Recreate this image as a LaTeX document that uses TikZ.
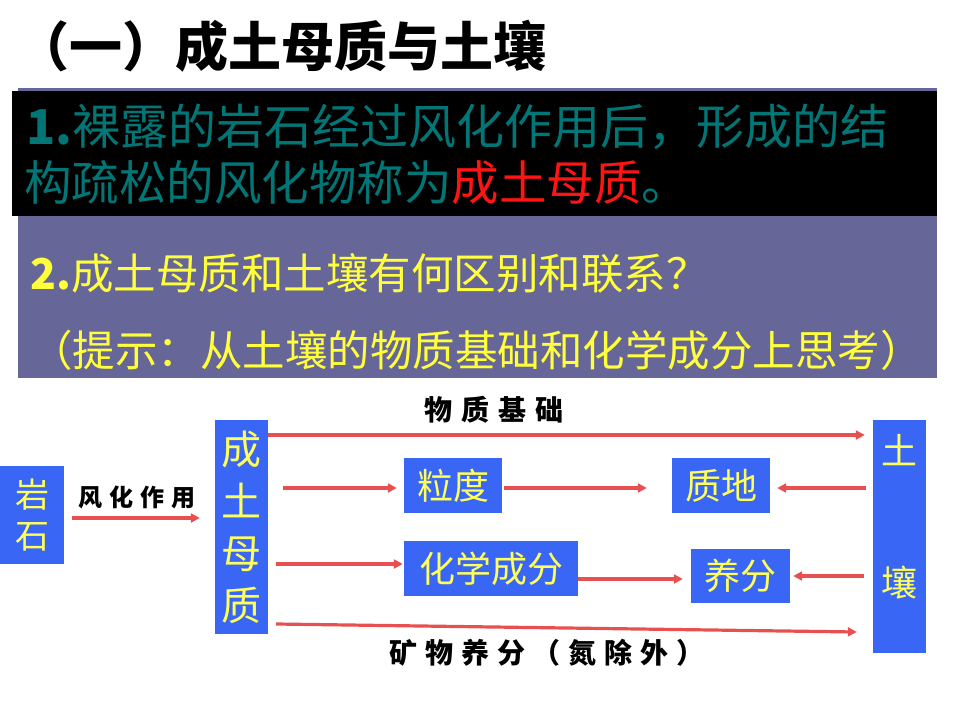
\documentclass[tikz,border=0pt]{standalone}
\usepackage{fontspec}
\setmainfont{Noto Sans CJK SC}
\usetikzlibrary{arrows.meta}
\definecolor{pur}{RGB}{102,102,153}
\definecolor{boxblue}{RGB}{58,102,245}
\definecolor{ylw}{RGB}{255,255,60}
\definecolor{boxtxt}{RGB}{255,255,90}
\definecolor{teal2}{RGB}{0,118,118}
\definecolor{arrred}{RGB}{232,80,80}
\definecolor{hred}{RGB}{255,20,20}
\newcommand\fsz[2]{\fontsize{#1}{#2}\selectfont}
\tikzset{
  bluebox/.style={fill=boxblue, draw=none, inner sep=0pt, text=boxtxt, align=center},
  arr/.style={draw=arrred, line width=3.2pt, -{Triangle[length=9pt,width=9pt]}},
  lbl/.style={inner sep=0pt, text=black},
  txt/.style={inner sep=0pt, anchor=west}
}
\begin{document}
\begin{tikzpicture}[x=1pt,y=-1pt]
\useasboundingbox (0,0) rectangle (960,720);
\fill[white] (0,0) rectangle (960,720);
% title
\node[txt, font=\bfseries\fsz{53}{53}] (title) at (16,46) {（一）成土母质与土壤};
% panels
\fill[pur] (18,88) rectangle (937,378);
\fill[black] (12,91) rectangle (937,216);
\node[txt, text=teal2, font=\fsz{48}{48}] (l1) at (26,127) {{\bfseries 1.}裸露的岩石经过风化作用后，形成的结};
\node[txt, text=teal2, font=\fsz{47.5}{47.5}] (l2) at (24,182) {构疏松的风化物称为\textcolor{hred}{成土母质}。};
\node[txt, text=ylw, font=\fsz{42.5}{42.5}] (l3) at (30,273) {{\bfseries 2.}成土母质和土壤有何区别和联系？};
\node[txt, text=ylw, font=\fsz{42.5}{42.5}] (l4) at (30,350) {（提示：从土壤的物质基础和化学成分上思考）};
% boxes
\node[bluebox, minimum width=64pt, minimum height=98pt, font=\fsz{34}{41}] (yan) at (32,515) {岩\\石};
\node[bluebox, minimum width=53pt, minimum height=214pt, font=\fsz{40}{52}] (mu) at (241.5,527) {成\\土\\母\\质};
\node[bluebox, minimum width=98pt, minimum height=55pt, font=\fsz{36}{36}] (li) at (453,485.5) {粒度};
\node[bluebox, minimum width=98pt, minimum height=55pt, font=\fsz{36}{36}] (zd) at (721,485.5) {质地};
\node[bluebox, minimum width=174pt, minimum height=55pt, font=\fsz{36}{36}] (hx) at (491,568.5) {化学成分};
\node[bluebox, minimum width=99pt, minimum height=54pt, font=\fsz{36}{36}] (yf) at (740.5,576) {养分};
\node[bluebox, minimum width=53pt, minimum height=233pt] (tr) at (899.5,536.5) {};
\node[inner sep=0pt, text=boxtxt, font=\fsz{36}{36}] (tr1) at (tr.center |- 0,450) {土};
\node[inner sep=0pt, text=boxtxt, font=\fsz{36}{36}] (tr2) at (tr.center |- 0,583) {壤};
% arrows
\draw[arr] ([xshift=8pt]yan.east |- 0,518) -- ([xshift=-15pt]mu.west |- 0,518);
\draw[arr] (mu.east |- 0,435) -- ([xshift=-8pt]tr.west |- 0,435);
\draw[arr] ([xshift=15pt]mu.east |- 0,488) -- ([xshift=-7pt]li.west |- 0,488);
\draw[arr] ([xshift=2pt]li.east |- 0,488) -- ([xshift=-25pt]zd.west |- 0,488);
\draw[arr] ([xshift=-7pt]tr.west |- 0,488) -- ([xshift=7pt]zd.east |- 0,488);
\draw[arr] ([xshift=8pt]mu.east |- 0,564) -- ([xshift=-1pt]hx.west |- 0,564);
\draw[arr] (hx.east |- 0,579) -- ([xshift=-8pt]yf.west |- 0,579);
\draw[arr] ([xshift=-9pt]tr.west |- 0,576) -- ([xshift=3pt]yf.east |- 0,576);
\draw[arr] ([xshift=8pt]mu.east |- 0,624) -- ([xshift=-16pt]tr.west |- 0,632);
% labels
\node[lbl, font=\bfseries\fsz{24}{24}\addfontfeature{LetterSpace=30}] (fh) at (137,497) {风化作用};
\node[lbl, font=\bfseries\fsz{28}{28}\addfontfeature{LetterSpace=32}] (wz) at (494,410) {物质基础};
\node[lbl, font=\bfseries\fsz{28}{28}\addfontfeature{LetterSpace=28}] (kw) at (547,653) {矿物养分（氮除外）};
\end{tikzpicture}
\end{document}
